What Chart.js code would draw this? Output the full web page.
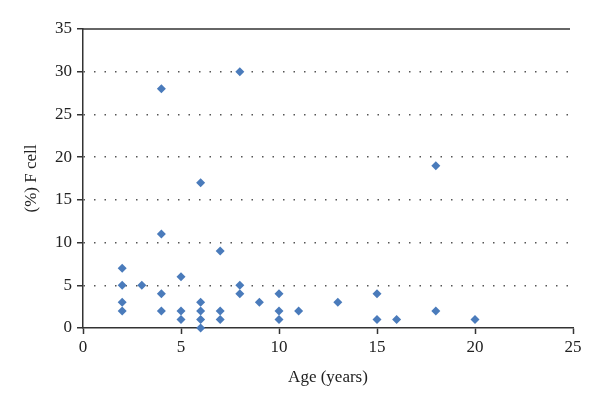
<!DOCTYPE html>
<html>
<head>
<meta charset="utf-8">
<script src="https://cdn.jsdelivr.net/npm/chart.js@4/dist/chart.umd.min.js"></script>
<style>
html,body{margin:0;padding:0;background:#fff;}
#wrap{width:600px;height:406px;}
</style>
</head>
<body>
<div id="wrap"><canvas id="c" width="600" height="406"></canvas></div>
<script>
const ages   = [2,2,2,2, 3, 4,4,4,4, 5,5,5, 6,6,6,6,6, 7,7,7, 8,8,8, 9, 10,10,10, 11, 13, 15,15, 16, 18,18, 20];
const fcell  = [7,5,3,2, 5, 28,11,4,2, 6,2,1, 17,3,2,1,0, 9,2,1, 30,5,4, 3, 4,2,1, 2, 3, 4,1, 1, 19,2, 1];
const xTicks = [0,5,10,15,20,25];
const yTicks = [0,5,10,15,20,25,30,35];
const xTitle = 'Age (years)';
const yTitle = '(%) F cell';

const points = ages.map((a,i)=>({x:a, y:fcell[i]}));
const font = {family:"'Liberation Serif', serif", size:17};

const topLine = {
  id:'topLine',
  afterDraw(chart){
    const {ctx, chartArea} = chart;
    ctx.save();
    ctx.strokeStyle = '#333';
    ctx.lineWidth = 1.5;
    ctx.beginPath();
    ctx.moveTo(chartArea.left, chartArea.top);
    ctx.lineTo(chartArea.right - 3, chartArea.top);
    ctx.stroke();
    ctx.restore();
  }
};

new Chart(document.getElementById('c'), {
  type:'scatter',
  data:{datasets:[{
    data:points,
    pointStyle:'rectRot',
    pointRadius:4.5,
    pointHoverRadius:4.5,
    backgroundColor:'#4a7bbb',
    borderColor:'#4a7bbb',
    borderWidth:0,
    clip:false
  }]},
  options:{
    responsive:false,
    animation:false,
    events:[],
    layout:{padding:{left:0,right:27,top:29,bottom:0}},
    plugins:{legend:{display:false},tooltip:{enabled:false}},
    scales:{
      x:{
        type:'linear', min:0, max:25,
        afterBuildTicks(s){ s.ticks = xTicks.map(v=>({value:v})); },
        afterFit(s){ s.height = 78; },
        grid:{drawOnChartArea:false, drawTicks:true, tickLength:6, tickColor:'#333', tickWidth:1.5},
        border:{display:true, color:'#333', width:1.5},
        ticks:{font, color:'#222', padding:3, maxRotation:0},
        title:{display:true, text:xTitle, font, color:'#222', padding:{top:0,bottom:18}}
      },
      y:{
        type:'linear', min:0, max:35,
        afterBuildTicks(s){ s.ticks = yTicks.map(v=>({value:v})); },
        afterFit(s){ s.width = 83; },
        grid:{
          drawOnChartArea:true, drawTicks:true, tickLength:6, tickWidth:1.5,
          tickColor:'#333',
          color:(c)=> (c.tick && (c.tick.value===0 || c.tick.value===35)) ? 'rgba(0,0,0,0)' : '#555',
          lineWidth:1.5
        },
        border:{display:true, color:'#333', width:1.5, dash:[1.5,9]},
        ticks:{font, color:'#222', padding:5},
        title:{display:true, text:yTitle, font, color:'#222', padding:{top:21,bottom:0}}
      }
    }
  },
  plugins:[topLine]
});
</script>
</body>
</html>
